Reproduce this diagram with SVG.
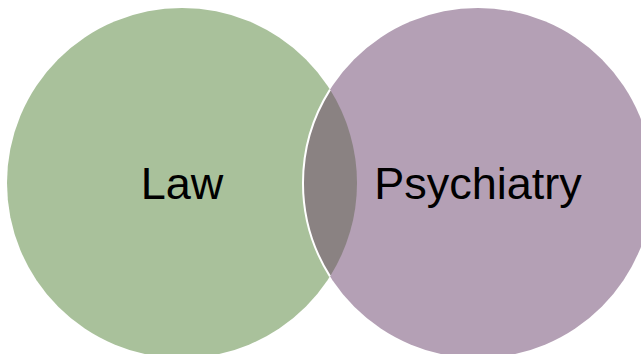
<svg xmlns="http://www.w3.org/2000/svg" width="641" height="354" viewBox="0 0 641 354">
<style>
.lbl{font-family:"Liberation Sans",Arial,sans-serif;font-size:45px;fill:#000;text-anchor:middle}
</style>
<rect width="641" height="354" fill="#fff"/>
<g id="law">
<circle cx="182" cy="183" r="175" fill="#a9c19b"/>
</g>
<g id="psychiatry">
<circle cx="478" cy="183" r="175" fill="#b4a0b5"/>
</g>
<g id="overlap">
<path d="M330,89.6 A175,175 0 0,0 330,276.4 A175,175 0 0,0 330,89.6 Z" fill="#8a8282"/>
<path d="M330,89.6 A175,175 0 0,0 330,276.4" fill="none" stroke="#fff" stroke-width="2"/>
</g>
<text class="lbl" x="182" y="199">Law</text>
<text class="lbl" x="478" y="199">Psychiatry</text>
</svg>
